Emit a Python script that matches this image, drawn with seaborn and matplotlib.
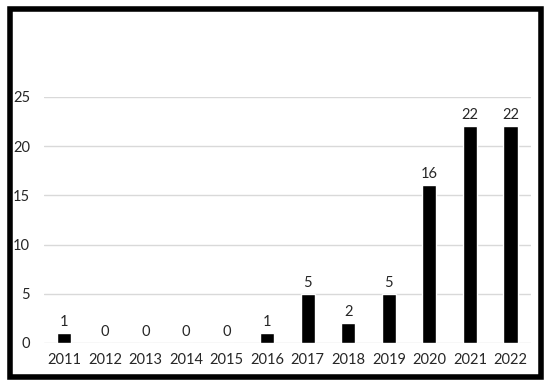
import matplotlib
matplotlib.use("Agg")
import matplotlib.pyplot as plt
import seaborn as sns
import pandas as pd
from matplotlib.patches import Rectangle

# values
years = ["2011", "2012", "2013", "2014", "2015", "2016",
         "2017", "2018", "2019", "2020", "2021", "2022"]
counts = [1, 0, 0, 0, 0, 1, 5, 2, 5, 16, 22, 22]
y_ticks = [0, 5, 10, 15, 20, 25]

df = pd.DataFrame({"year": years, "count": counts})

sns.set_style("white")
plt.rcParams["font.family"] = ["Lato", "DejaVu Sans"]

fig = plt.figure(figsize=(5.5, 3.87), dpi=100)
ax = fig.add_axes([0.08, 0.1137, 0.885, 0.636])

sns.barplot(data=df, x="year", y="count", color="black", width=0.35,
            saturation=1, ax=ax, zorder=3)

for container in ax.containers:
    ax.bar_label(container, padding=3, fontsize=10.5, color="#262626")

ax.set_ylim(0, 25)
ax.set_yticks(y_ticks)
ax.yaxis.grid(True, color="#d9d9d9", linewidth=1, zorder=0)
ax.set_axisbelow(True)
for s in ax.spines.values():
    s.set_visible(False)
ax.tick_params(axis="both", length=0, labelsize=10.5, labelcolor="#262626")
ax.tick_params(axis="y", pad=10)
ax.tick_params(axis="x", pad=7)
ax.set_xlabel("")
ax.set_ylabel("")

# thick frame around the whole chart
fig.patches.append(Rectangle((10 / 550, 1 - 377 / 387), 531 / 550, 368 / 387,
                             transform=fig.transFigure, fill=False,
                             edgecolor="black", linewidth=4))

fig.savefig("out.png", dpi=100)
